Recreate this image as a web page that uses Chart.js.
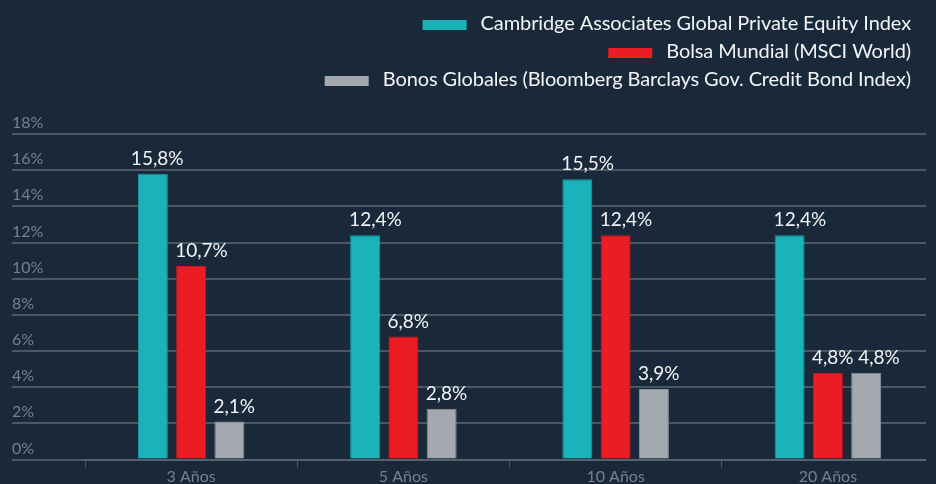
<!DOCTYPE html>
<html>
<head>
<meta charset="utf-8">
<script src="https://cdn.jsdelivr.net/npm/chart.js@4.4.1/dist/chart.umd.min.js"></script>
<style>
  html, body { margin: 0; padding: 0; background: #1a2939; }
  #wrap { width: 936px; height: 484px; position: relative; overflow: hidden; }
  canvas { display: block; }
</style>
</head>
<body>
<div id="wrap"><canvas id="chart" width="936" height="484"></canvas></div>
<script>
// Horizon categories and annualised returns (%)
const categories = ['3 Años', '5 Años', '10 Años', '20 Años'];
const privateEquity = [15.8, 12.4, 15.5, 12.4];
const worldEquity = [10.7, 6.8, 12.4, 4.8];
const globalBonds = [2.1, 2.8, 3.9, 4.8];

const seriesNames = [
  'Cambridge Associates Global Private Equity Index',
  'Bolsa Mundial (MSCI World)',
  'Bonos Globales (Bloomberg Barclays Gov. Credit Bond Index)'
];

const yTickValues = [0, 2, 4, 6, 8, 10, 12, 14, 16, 18];
const yTickLabels = ['0%', '2%', '4%', '6%', '8%', '10%', '12%', '14%', '16%', '18%'];

const BG = '#1a2939';
const GRID = '#4a5866';
const AXIS_TEXT = '#74818e';
const FONT = 'Lato, "Open Sans", sans-serif';

// Value labels above each bar, comma decimal separator
const valueLabels = {
  id: 'valueLabels',
  afterDatasetsDraw(chart, args, opts) {
    const ctx = chart.ctx;
    ctx.save();
    ctx.font = opts.fontSize + 'px ' + FONT;
    ctx.fillStyle = '#f2f4f6';
    ctx.textAlign = 'left';
    ctx.textBaseline = 'alphabetic';
    chart.data.datasets.forEach((ds, di) => {
      const meta = chart.getDatasetMeta(di);
      meta.data.forEach((bar, i) => {
        const v = ds.data[i];
        const txt = v.toFixed(1).replace('.', ',') + '%';
        const nudge = (opts.nudge && opts.nudge[di + ':' + i]) || 0;
        const left = bar.x - bar.width / 2 - 1 + nudge;
        ctx.fillText(txt, left, bar.y - 9);
      });
    });
    ctx.restore();
  }
};

// Right-aligned legend, one series per row
const rowLegend = {
  id: 'rowLegend',
  afterDraw(chart, args, opts) {
    const ctx = chart.ctx;
    ctx.save();
    ctx.font = opts.fontSize + 'px ' + FONT;
    if ('letterSpacing' in ctx) ctx.letterSpacing = opts.letterSpacing;
    ctx.textBaseline = 'middle';
    ctx.textAlign = 'right';
    chart.data.datasets.forEach((ds, i) => {
      const y = opts.firstRow + i * opts.rowGap;
      const w = ctx.measureText(ds.label).width;
      ctx.fillStyle = '#f2f4f6';
      ctx.fillText(ds.label, opts.right, y);
      const boxRight = opts.right - w - opts.gap;
      ctx.fillStyle = ds.backgroundColor;
      ctx.fillRect(boxRight - opts.boxW, y - opts.boxH / 2 + 1, opts.boxW, opts.boxH);
    });
    ctx.restore();
  }
};

// Trim the grid at the right so it stops short of the canvas edge
const gridTrim = {
  id: 'gridTrim',
  beforeDatasetsDraw(chart, args, opts) {
    const ctx = chart.ctx;
    const a = chart.chartArea;
    ctx.save();
    ctx.fillStyle = BG;
    ctx.fillRect(opts.x, a.top - 3, chart.width - opts.x, a.bottom - a.top + 20);
    ctx.restore();
  }
};

new Chart(document.getElementById('chart'), {
  type: 'bar',
  data: {
    labels: categories,
    datasets: [
      { label: seriesNames[0], data: privateEquity, backgroundColor: '#1bb2b9', borderColor: '#179aa1', borderWidth: 1 },
      { label: seriesNames[1], data: worldEquity, backgroundColor: '#ec1c24', borderColor: '#c9181f', borderWidth: 1 },
      { label: seriesNames[2], data: globalBonds, backgroundColor: '#a4a9b0', borderColor: '#8d939a', borderWidth: 1 }
    ]
  },
  plugins: [gridTrim, valueLabels, rowLegend],
  options: {
    responsive: false,
    devicePixelRatio: 1,
    animation: false,
    layout: { padding: { left: 12, right: 2, top: 134, bottom: 0 } },
    datasets: {
      bar: { categoryPercentage: 0.541, barPercentage: 0.783 }
    },
    plugins: {
      legend: { display: false },
      tooltip: { enabled: false },
      valueLabels: { fontSize: 19, nudge: { '0:0': -6, '2:3': 8 } },
      rowLegend: { right: 911, firstRow: 24, rowGap: 28, fontSize: 20, letterSpacing: '-0.1px', boxW: 44, boxH: 10, gap: 14 },
      gridTrim: { x: 926 }
    },
    scales: {
      x: {
        offset: true,
        afterFit(s) { s.height = 24.5; },
        grid: { drawOnChartArea: false, drawTicks: true, tickLength: 8, color: GRID, lineWidth: 1 },
        border: { display: true, color: '#56636f', width: 2 },
        ticks: { color: AXIS_TEXT, font: { family: FONT, size: 16 }, padding: 0 }
      },
      y: {
        min: 0,
        max: 18,
        afterBuildTicks(s) { s.ticks = yTickValues.map(v => ({ value: v })); },
        afterFit(s) { s.width = 73; },
        grid: { color: GRID, lineWidth: 2, tickLength: 73, drawTicks: true },
        border: { display: false },
        ticks: {
          color: AXIS_TEXT,
          font: { family: FONT, size: 16 },
          crossAlign: 'far',
          labelOffset: -11,
          padding: 0,
          callback: (v, i) => yTickLabels[i]
        }
      }
    }
  }
});
</script>
</body>
</html>
